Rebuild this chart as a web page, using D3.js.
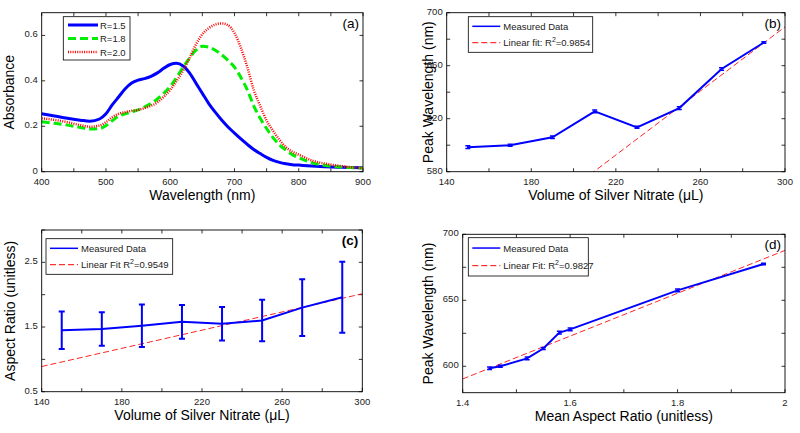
<!DOCTYPE html>
<html><head><meta charset="utf-8">
<script src="https://cdn.jsdelivr.net/npm/d3@7"></script>
<style>
html,body{margin:0;padding:0;background:#fff;}
svg text{font-family:"Liberation Sans",Arial,sans-serif;}
</style></head>
<body><svg id="c" width="800" height="433"></svg>
<script>
// ---------- data ----------
const wavelength = [400,420,440,460,475,490,500,510,520,530,540,550,560,570,580,590,600,610,620,630,640,650,660,670,680,690,700,710,720,730,740,750,760,770,780,790,800,820,840,860,880,900];
const absR15 = [0.255,0.245,0.235,0.227,0.222,0.232,0.255,0.295,0.33,0.365,0.39,0.403,0.41,0.42,0.435,0.455,0.472,0.477,0.465,0.435,0.39,0.345,0.30,0.262,0.228,0.197,0.170,0.144,0.12,0.098,0.08,0.063,0.05,0.041,0.035,0.031,0.029,0.025,0.022,0.02,0.018,0.017];
const absR18 = [0.22,0.213,0.205,0.195,0.188,0.19,0.203,0.225,0.245,0.255,0.263,0.272,0.285,0.3,0.32,0.345,0.375,0.415,0.46,0.5,0.535,0.552,0.548,0.535,0.515,0.49,0.46,0.415,0.36,0.29,0.235,0.19,0.15,0.118,0.095,0.075,0.062,0.04,0.028,0.022,0.018,0.016];
const absR20 = [0.235,0.228,0.218,0.205,0.198,0.203,0.218,0.24,0.255,0.262,0.268,0.272,0.28,0.29,0.305,0.33,0.36,0.4,0.445,0.5,0.56,0.605,0.632,0.648,0.653,0.645,0.61,0.545,0.46,0.36,0.29,0.225,0.18,0.14,0.108,0.088,0.075,0.05,0.036,0.027,0.02,0.016];
const seriesNames = ["R=1.5","R=1.8","R=2.0"];

const volume = [150,170,190,210,230,250,270,290];
const peakWavelength = [598.5,600,606,625.5,613.5,628,657.5,677.5];
const peakErr = [1,0.8,1,1,0.8,1,1,0.5];
const aspectRatio = [1.45,1.47,1.52,1.58,1.55,1.60,1.80,1.96];
const aspectErr = [0.29,0.26,0.33,0.26,0.26,0.32,0.44,0.55];

const fitB = {slope:1.209, intercept:326.6, label:"Linear fit: R", r2:"=0.9854"};
const fitC = {slope:0.00703, intercept:-0.095, label:"Linear Fit R", r2:"=0.9549"};
const fitD = {slope:162.3, intercept:363.2, label:"Linear Fit: R", r2:"=0.9827"};

const ticksA = {x:d3.range(400,901,50), xl:[400,500,600,700,800,900], y:[0,0.2,0.4,0.6], yl:[0,0.2,0.4,0.6]};
const ticksB = {x:d3.range(140,301,20), xl:[140,180,220,260,300], y:d3.range(580,701,20), yl:[580,620,660,700]};
const ticksC = {x:d3.range(140,301,20), xl:[140,180,220,260,300], y:[0.5,1,1.5,2,2.5,3], yl:[0.5,1.5,2.5]};
const ticksD = {x:[1.4,1.5,1.6,1.7,1.8,1.9,2.0], xl:[1.4,1.6,1.8,2], y:[600,625,650,675,700], yl:[600,650,700]};

// ---------- drawing ----------
const svg = d3.select("#c");
const BLUE="#0000ff", GREEN="#00ee00", RED="#ff0000";

function panel(box, xd, yd, ticks, xlabel, ylabel, tag, fmtX, fmtY, ylabX, tagBold){
  const g = svg.append("g");
  const x = d3.scaleLinear().domain(xd).range([box.l, box.r]);
  const y = d3.scaleLinear().domain(yd).range([box.b, box.t]);
  const tl = 3.5;
  ticks.x.forEach(v=>{
    g.append("line").attr("x1",x(v)).attr("x2",x(v)).attr("y1",box.b).attr("y2",box.b-tl).attr("stroke","#000").attr("stroke-width",0.8);
    g.append("line").attr("x1",x(v)).attr("x2",x(v)).attr("y1",box.t).attr("y2",box.t+tl).attr("stroke","#000").attr("stroke-width",0.8);
  });
  ticks.y.forEach(v=>{
    g.append("line").attr("x1",box.l).attr("x2",box.l+tl).attr("y1",y(v)).attr("y2",y(v)).attr("stroke","#000").attr("stroke-width",0.8);
    g.append("line").attr("x1",box.r).attr("x2",box.r-tl).attr("y1",y(v)).attr("y2",y(v)).attr("stroke","#000").attr("stroke-width",0.8);
  });
  ticks.xl.forEach(v=>{
    g.append("text").attr("x",x(v)).attr("y",box.b+13).attr("text-anchor","middle").attr("font-size",9.5).attr("fill","#222").text(fmtX(v));
  });
  ticks.yl.forEach(v=>{
    g.append("text").attr("x",box.l-4).attr("y",y(v)+2).attr("text-anchor","end").attr("font-size",9.5).attr("fill","#222").text(fmtY(v));
  });
  g.append("text").attr("x",(box.l+box.r)/2).attr("y",box.b+28.5).attr("text-anchor","middle").attr("font-size",14).attr("fill","#000").text(xlabel);
  g.append("text").attr("transform",`translate(${ylabX},${(box.t+box.b)/2}) rotate(-90)`).attr("text-anchor","middle").attr("font-size",14).attr("fill","#000").text(ylabel);
  g.append("text").attr("x",box.r-4).attr("y",box.t+15).attr("text-anchor","end").attr("font-size",13.5).attr("font-weight",tagBold?"bold":"normal").attr("fill","#000").text(tag);
  const clip = "clip"+tag.replace(/\W/g,"");
  svg.append("clipPath").attr("id",clip).append("rect").attr("x",box.l).attr("y",box.t).attr("width",box.r-box.l).attr("height",box.b-box.t);
  const plot = g.append("g").attr("clip-path",`url(#${clip})`);
  return {g, plot, x, y, box};
}
function frame(p){
  p.g.append("rect").attr("x",p.box.l).attr("y",p.box.t).attr("width",p.box.r-p.box.l).attr("height",p.box.b-p.box.t).attr("fill","none").attr("stroke","#000").attr("stroke-width",0.9);
}
function fitLine(p, fit, xd){
  p.plot.append("line").attr("x1",p.x(xd[0])).attr("y1",p.y(fit.slope*xd[0]+fit.intercept))
    .attr("x2",p.x(xd[1])).attr("y2",p.y(fit.slope*xd[1]+fit.intercept))
    .attr("stroke",RED).attr("stroke-width",1).attr("stroke-dasharray","6,3").attr("opacity",0.85);
}
function errLine(p, xs, ys, es, cap, w){
  const pts = xs.map((v,i)=>[v,ys[i],es[i]]);
  p.plot.append("path").datum(pts).attr("fill","none").attr("stroke",BLUE).attr("stroke-width",2)
    .attr("d",d3.line().x(d=>p.x(d[0])).y(d=>p.y(d[1])));
  pts.forEach(d=>{
    const cx=p.x(d[0]), y1=p.y(d[1]-d[2]), y2=p.y(d[1]+d[2]);
    p.plot.append("line").attr("x1",cx).attr("x2",cx).attr("y1",y1).attr("y2",y2).attr("stroke",BLUE).attr("stroke-width",w);
    [y1,y2].forEach(yy=>p.plot.append("line").attr("x1",cx-cap).attr("x2",cx+cap).attr("y1",yy).attr("y2",yy).attr("stroke",BLUE).attr("stroke-width",w));
  });
}
function legend2(p, bx, fit){
  const g=p.g;
  g.append("rect").attr("x",bx.l).attr("y",bx.t).attr("width",bx.r-bx.l).attr("height",bx.b-bx.t).attr("fill","#fff").attr("stroke","#000").attr("stroke-width",0.8);
  const r1 = bx.t+(bx.b-bx.t)*0.27, r2 = bx.t+(bx.b-bx.t)*0.73;
  g.append("line").attr("x1",bx.l+4).attr("x2",bx.l+32).attr("y1",r1).attr("y2",r1).attr("stroke",BLUE).attr("stroke-width",1.5);
  g.append("line").attr("x1",bx.l+4).attr("x2",bx.l+32).attr("y1",r2).attr("y2",r2).attr("stroke",RED).attr("stroke-width",1).attr("stroke-dasharray","6,3");
  g.append("text").attr("x",bx.l+35).attr("y",r1+3.5).attr("font-size",9.5).attr("fill","#222").text("Measured Data");
  const t=g.append("text").attr("x",bx.l+35).attr("y",r2+3.5).attr("font-size",9.5).attr("fill","#222");
  t.append("tspan").text(fit.label);
  t.append("tspan").attr("dy",-4).attr("font-size",7).text("2");
  t.append("tspan").attr("dy",4).text(fit.r2);
}

// Panel (a)
const pa = panel({l:41.7,r:363,t:12.7,b:171.7},[400,900],[0,0.7],ticksA,"Wavelength (nm)","Absorbance","(a)",d=>d,d=>d===0?"0":d3.format(".1f")(d),14,false);
const line = d3.line().curve(d3.curveMonotoneX).x((d,i)=>pa.x(wavelength[i])).y(d=>pa.y(d));
pa.plot.append("path").datum(absR15).attr("fill","none").attr("stroke",BLUE).attr("stroke-width",3).attr("d",line);
pa.plot.append("path").datum(absR18).attr("fill","none").attr("stroke",GREEN).attr("stroke-width",3).attr("stroke-dasharray","8,4").attr("d",line);
pa.plot.append("path").datum(absR20).attr("fill","none").attr("stroke",RED).attr("stroke-width",2.5).attr("stroke-dasharray","1,1.3").attr("d",line);
frame(pa);
{
  const g=pa.g, bx={l:63.3,r:130,t:16.7,b:60};
  g.append("rect").attr("x",bx.l).attr("y",bx.t).attr("width",bx.r-bx.l).attr("height",bx.b-bx.t).attr("fill","#fff").attr("stroke","#000").attr("stroke-width",0.8);
  const rows=[25,38.5,52], cols=[BLUE,GREEN,RED], dash=[null,"8,4","1,1.3"], sw=[3,3,2.5];
  rows.forEach((ry,i)=>{
    const l=g.append("line").attr("x1",68).attr("x2",98).attr("y1",ry).attr("y2",ry).attr("stroke",cols[i]).attr("stroke-width",sw[i]);
    if(dash[i]) l.attr("stroke-dasharray",dash[i]);
    g.append("text").attr("x",100).attr("y",ry+3.5).attr("font-size",9.5).attr("fill","#222").text(seriesNames[i]);
  });
}

// Panel (b)
const pb = panel({l:446.7,r:785,t:12.7,b:171.7},[140,300],[580,700],ticksB,"Volume of Silver Nitrate (\u03bcL)","Peak Wavelength (nm)","(b)",d=>d,d=>d,433,false);
fitLine(pb, fitB, [140,300]);
errLine(pb, volume, peakWavelength, peakErr, 2.5, 1.5);
frame(pb);
legend2(pb,{l:468.3,r:592.7,t:16.7,b:52.3},fitB);

// Panel (c)
const pc = panel({l:41.7,r:362.3,t:230,b:391.7},[140,300],[0.5,3],ticksC,"Volume of Silver Nitrate (\u03bcL)","Aspect Ratio (unitless)","(c)",d=>d,d=>d,15,true);
fitLine(pc, fitC, [140,300]);
errLine(pc, volume, aspectRatio, aspectErr, 3, 2);
frame(pc);
legend2(pc,{l:46,r:172.7,t:238.7,b:274.3},fitC);

// Panel (d)
const order = d3.range(aspectRatio.length).sort((a,b)=>aspectRatio[a]-aspectRatio[b]);
const pd = panel({l:462.7,r:785,t:234.3,b:392.7},[1.4,2],[580,700],ticksD,"Mean Aspect Ratio (unitless)","Peak Wavelength (nm)","(d)",d=>d,d=>d,433,false);
fitLine(pd, fitD, [1.4,2]);
errLine(pd, order.map(i=>aspectRatio[i]), order.map(i=>peakWavelength[i]), order.map(i=>peakErr[i]), 2.5, 1.5);
frame(pd);
legend2(pd,{l:468.3,r:588.3,t:237.7,b:276},fitD);
</script></body></html>
